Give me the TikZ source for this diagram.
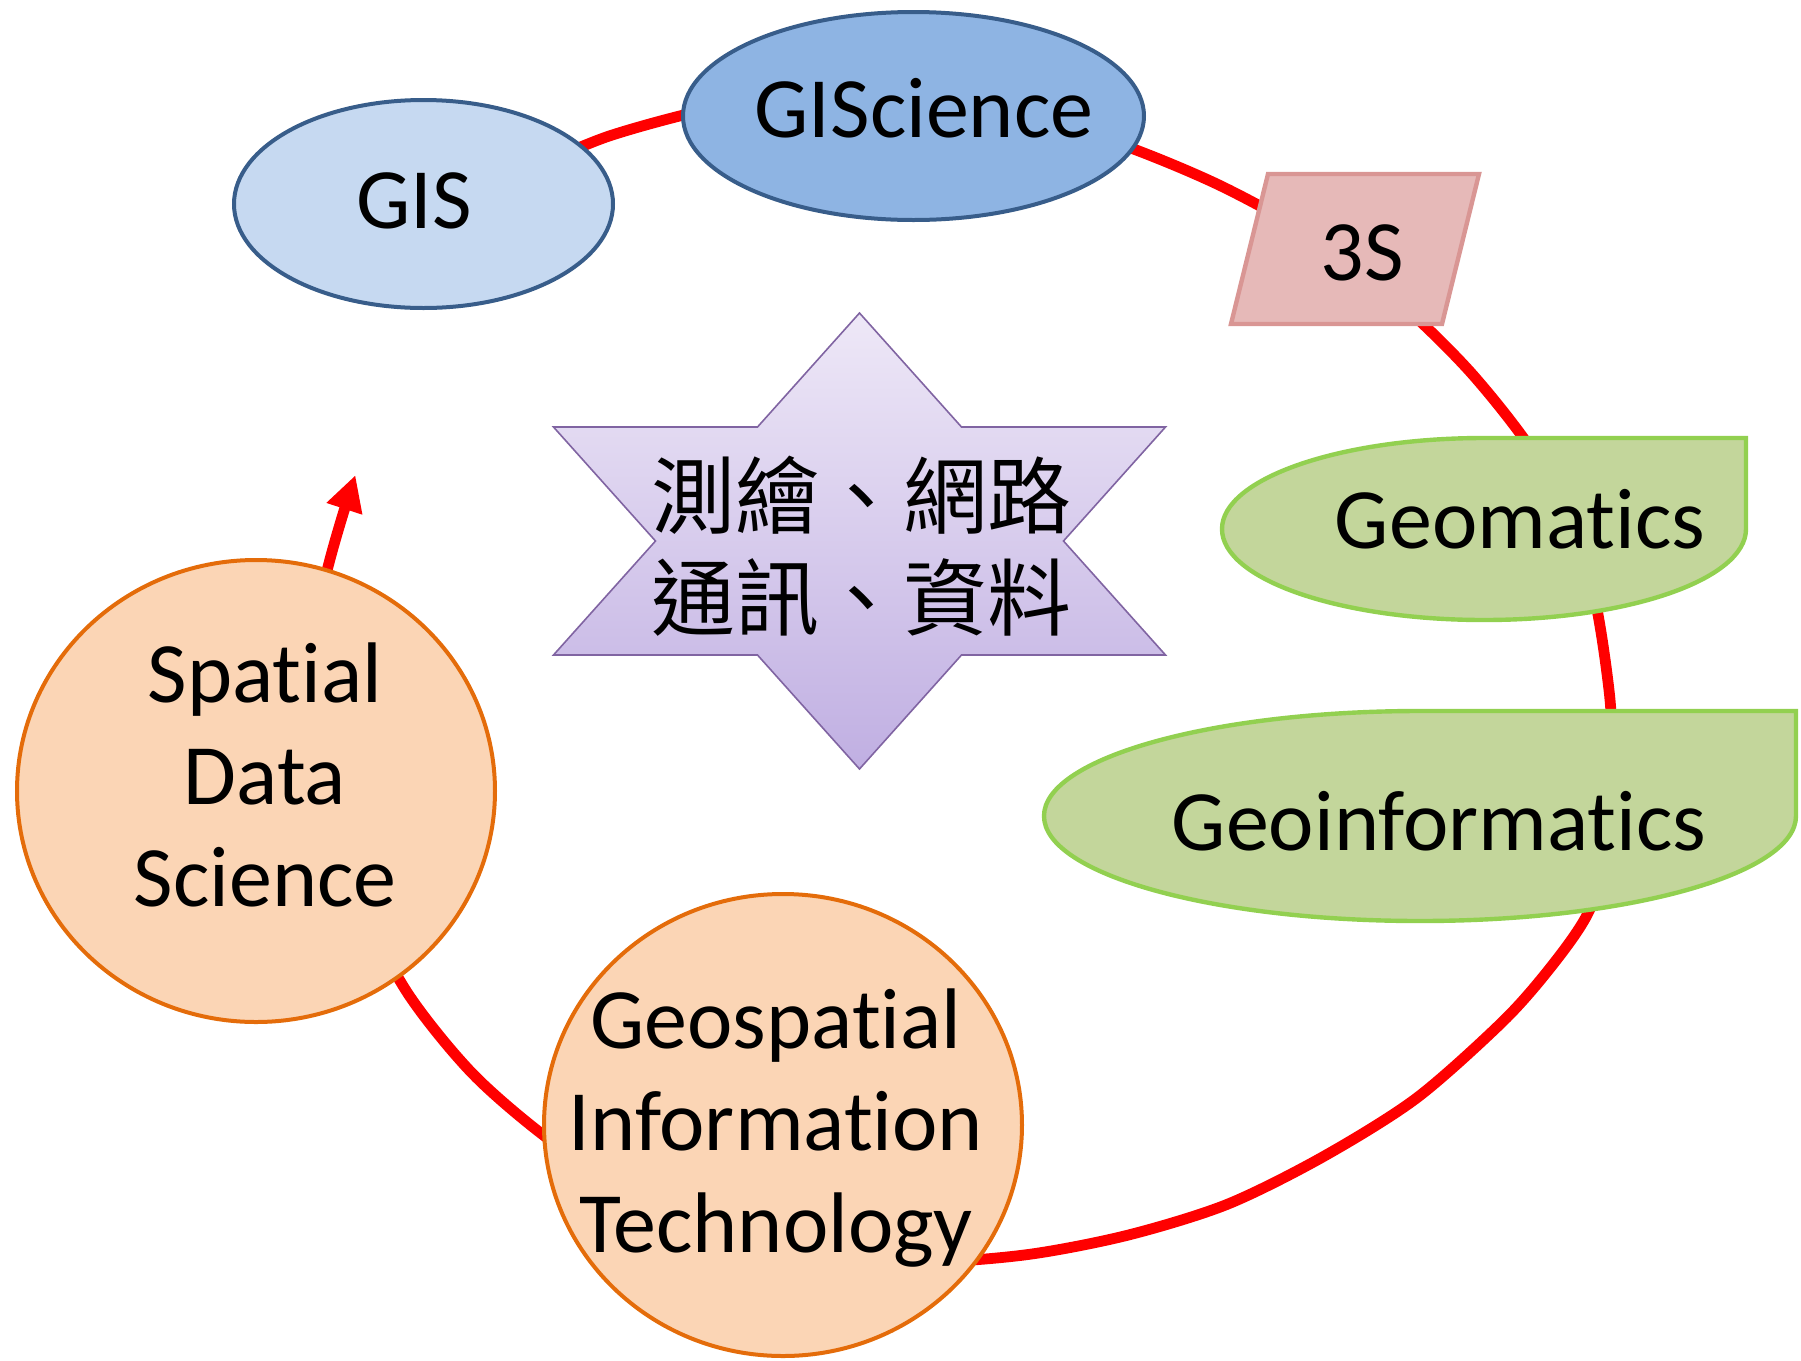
\documentclass[tikz,border=0pt]{standalone}
\usepackage{fontspec}
\setmainfont{Carlito}[Ligatures={NoCommon,NoContextual}, Contextuals=NoAlternate]
\newfontfamily\cjkfont{Noto Sans CJK TC}
\usetikzlibrary{shapes.geometric,arrows.meta}

\definecolor{ringred}{HTML}{FF0000}
\definecolor{blueline}{HTML}{385D8A}
\definecolor{gisfill}{HTML}{C6D9F1}
\definecolor{scifill}{HTML}{8EB4E3}
\definecolor{pinkfill}{HTML}{E6B9B8}
\definecolor{pinkline}{HTML}{D99694}
\definecolor{greenfill}{HTML}{C3D69B}
\definecolor{greenline}{HTML}{92D050}
\definecolor{peachfill}{HTML}{FBD5B5}
\definecolor{peachline}{HTML}{E46C0A}
\definecolor{startop}{HTML}{EEE8F7}
\definecolor{starbottom}{HTML}{C0AFE2}
\definecolor{starline}{HTML}{8064A2}

\begin{document}
\begin{tikzpicture}[x=0.5pt, y=-0.5pt,
  ring/.style={line width=5.4pt, color=ringred, -{Triangle[length=17.7pt, width=17.6pt]}},
  blueoval/.style={ellipse, draw=blueline, line width=2pt, inner sep=0pt},
  peachoval/.style={ellipse, draw=peachline, fill=peachfill, line width=2pt, inner sep=0pt, minimum width=239pt, minimum height=231pt},
  leaf/.style={draw=greenline, fill=greenfill, line width=2.2pt},
  slant/.style={draw=pinkline, fill=pinkfill, line width=2.2pt},
  hexstar/.style={draw=starline, line width=0.8pt, top color=startop, bottom color=starbottom},
  word/.style={font=\fontsize{43}{51}\selectfont, inner sep=0pt, align=center},
  cjkword/.style={font=\cjkfont\fontsize{42}{51}\selectfont, inner sep=0pt, align=center}]
\useasboundingbox (0,0) rectangle (1801,1361);

% red circular arrow, drawn first so the shapes sit on top of it
% (angle:radius) round the hub, clockwise on the page
\coordinate (ringhub) at (930,690);
\draw [ring, shift={(ringhub)}] plot [smooth] coordinates {(232.7:656) (240:640) (250:620) (260:603) (270:590) (280:582) (290:578) (300:582) (310:593) (320:608) (330:628) (340:652) (350:669) (360:679) (367.5:689) (373.4:699) (378.9:694.5) (384:680) (390:662) (400:635) (410:610) (420:594) (430:580) (440:573) (450:572) (460:575) (470:579) (480:584) (490:589) (500:597) (510:604) (520:608) (530:611) (540:614) (550:615) (560.5:613.5)};

% top row
\node [blueoval, fill=gisfill, minimum width=189.5pt, minimum height=104pt] (gis) at (423.5,204) {};
\node [blueoval, fill=scifill, minimum width=230.5pt, minimum height=104pt] (gisci) at (913.5,116) {};
\draw [slant] (1268,174) -- (1479,174) -- (1442,324) -- (1231,324) -- cycle;

% green drops on the right
\draw [leaf] (1484,438) -- (1746,438) -- (1746,529) arc [start angle=0, end angle=270, x radius=262, y radius=91] -- cycle;
\draw [leaf] (1420,711) -- (1796,711) -- (1796,816) arc [start angle=0, end angle=270, x radius=376, y radius=105] -- cycle;

% orange circles
\node [peachoval] (sds) at (256,791) {};
\node [peachoval] (git) at (783,1125) {};

% six-pointed star in the middle
\coordinate (hub) at (859.5,541);
\draw [hexstar, shift={(hub)}] (0,-228) -- (102,-114) -- (306,-114) -- (204,0) -- (306,114) -- (102,114) -- (0,228) -- (-102,114) -- (-306,114) -- (-204,0) -- (-306,-114) -- (-102,-114) -- cycle;

\node [word, anchor=base] (gistext) at (414,228) {GIS};
\node [word, anchor=base] (giscitext) at (924,137) {GIScience};
\node [word, anchor=base] (threes) at (1362,280) {3S};
\node [word, anchor=base] (geomatics) at (1520,548.5) {Geomatics};
\node [word, anchor=base] (geoinfo) at (1439,850) {Geoinformatics};
\node [word] (sdstext) at (265,775) {Spatial\\Data\\Science};
\node [word] (gittext) at (776,1128) {Geospatial\\Information\\Technology};
\node [cjkword] (hubtext) at (861,546) {測繪、網路\\通訊、資料};
\end{tikzpicture}
\end{document}
